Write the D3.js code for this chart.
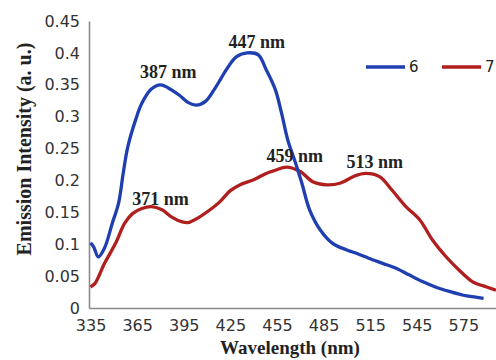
<!DOCTYPE html>
<html>
<head>
<meta charset="utf-8">
<script src="https://cdn.jsdelivr.net/npm/d3@7"></script>
<style>
  body { margin: 0; background: #fff; }
  svg { display: block; }
</style>
</head>
<body>
<div id="chart"></div>
<script>
// emission spectra, values
const blueWl = [335, 337, 340, 344, 349, 353, 356, 359, 364, 368, 374, 380, 385, 392, 398, 403, 409, 415, 419, 423, 429, 436, 443, 448, 454, 458, 462, 467, 471, 476, 483, 491, 500, 508, 514, 523, 532, 540, 549, 557, 566, 575, 583, 588];
const blueVal = [0.102, 0.096, 0.080, 0.094, 0.133, 0.164, 0.211, 0.253, 0.295, 0.321, 0.343, 0.350, 0.345, 0.334, 0.322, 0.318, 0.324, 0.344, 0.360, 0.376, 0.394, 0.400, 0.397, 0.374, 0.342, 0.305, 0.263, 0.227, 0.196, 0.154, 0.122, 0.101, 0.091, 0.084, 0.078, 0.070, 0.062, 0.052, 0.041, 0.033, 0.026, 0.020, 0.017, 0.015];

const redWl = [335, 338, 344, 351, 357, 362, 368, 374, 381, 387, 394, 398, 404, 413, 418, 425, 431, 440, 448, 454, 461, 470, 478, 487, 496, 505, 512, 521, 529, 538, 547, 555, 564, 572, 581, 590, 596];
const redVal = [0.033, 0.039, 0.070, 0.101, 0.133, 0.148, 0.156, 0.159, 0.154, 0.143, 0.135, 0.134, 0.141, 0.156, 0.166, 0.184, 0.193, 0.201, 0.211, 0.216, 0.221, 0.214, 0.198, 0.193, 0.196, 0.207, 0.211, 0.206, 0.185, 0.159, 0.138, 0.107, 0.080, 0.060, 0.041, 0.033, 0.028];

const seriesNames = ["6", "7"];
const seriesColors = ["#1f3fb0", "#b01e1e"];

const xTicks = [335, 365, 395, 425, 455, 485, 515, 545, 575];
const yTicks = [0, 0.05, 0.1, 0.15, 0.2, 0.25, 0.3, 0.35, 0.4, 0.45];

// peak labels (anchored at label centre)
const peakLabels = ["387 nm", "447 nm", "459 nm", "513 nm", "371 nm"];
const peakWl = [385, 442, 466.5, 518, 380];
const peakVal = [0.361, 0.408, 0.229, 0.219, 0.161];

const WIDTH = 496;
const HEIGHT = 360;
const margin = { top: 21, right: 0, bottom: 52, left: 89 };

const svg = d3.select("#chart")
  .append("svg")
  .attr("width", WIDTH)
  .attr("height", HEIGHT);

const xScale = d3.scaleLinear()
  .domain([334, 596])
  .range([margin.left, WIDTH - margin.right]);
const yScale = d3.scaleLinear()
  .domain([0, 0.45])
  .range([HEIGHT - margin.bottom, margin.top]);

// axes
const yAxis = d3.axisLeft(yScale)
  .tickValues(yTicks)
  .tickFormat(d => String(d))
  .tickSize(0)
  .tickPadding(9);
const xAxis = d3.axisBottom(xScale)
  .tickValues(xTicks)
  .tickFormat(d => String(d))
  .tickSize(0)
  .tickPadding(12);

const gy = svg.append("g")
  .attr("transform", `translate(${margin.left},0)`)
  .call(yAxis);
const gx = svg.append("g")
  .attr("transform", `translate(0,${HEIGHT - margin.bottom})`)
  .call(xAxis);

[gx, gy].forEach(g => {
  g.select(".domain").attr("stroke", "#8a8a8a").attr("stroke-width", 1.6);
  g.selectAll("text")
    .attr("fill", "#333")
    .style("font-family", "'DejaVu Sans', Verdana, sans-serif")
    .style("font-size", "16px");
});

// lines
const line = d3.line()
  .x(d => xScale(d[0]))
  .y(d => yScale(d[1]))
  .curve(d3.curveCatmullRom.alpha(0.5));

const blueData = blueWl.map((w, i) => [w, blueVal[i]]);
const redData = redWl.map((w, i) => [w, redVal[i]]);

svg.append("path")
  .datum(redData)
  .attr("d", line)
  .attr("fill", "none")
  .attr("stroke", seriesColors[1])
  .attr("stroke-width", 3.3)
  .attr("stroke-linejoin", "round");

svg.append("path")
  .datum(blueData)
  .attr("d", line)
  .attr("fill", "none")
  .attr("stroke", seriesColors[0])
  .attr("stroke-width", 3.3)
  .attr("stroke-linejoin", "round");

// peak annotations
svg.append("g")
  .selectAll("text")
  .data(peakLabels)
  .join("text")
  .attr("x", (d, i) => xScale(peakWl[i]))
  .attr("y", (d, i) => yScale(peakVal[i]))
  .attr("text-anchor", "middle")
  .attr("fill", "#222")
  .style("font-family", "'Liberation Serif', 'Times New Roman', serif")
  .style("font-weight", "bold")
  .style("font-size", "18px")
  .text(d => d);

// legend
const legend = svg.append("g");
const legendX = [366, 442];
seriesNames.forEach((name, i) => {
  legend.append("line")
    .attr("x1", legendX[i]).attr("x2", legendX[i] + 39)
    .attr("y1", 67).attr("y2", 67)
    .attr("stroke", seriesColors[i])
    .attr("stroke-width", 3.3);
  legend.append("text")
    .attr("x", legendX[i] + 43)
    .attr("y", 72)
    .attr("fill", "#222")
    .style("font-family", "'DejaVu Sans', Verdana, sans-serif")
    .style("font-size", "15px")
    .text(name);
});

// axis titles
svg.append("text")
  .attr("transform", "translate(31,149) rotate(-90)")
  .attr("text-anchor", "middle")
  .attr("fill", "#222")
  .style("font-family", "'Liberation Serif', 'Times New Roman', serif")
  .style("font-weight", "bold")
  .style("font-size", "20px")
  .text("Emission Intensity (a. u.)");

svg.append("text")
  .attr("x", 290)
  .attr("y", 354)
  .attr("text-anchor", "middle")
  .attr("fill", "#222")
  .style("font-family", "'Liberation Serif', 'Times New Roman', serif")
  .style("font-weight", "bold")
  .style("font-size", "19px")
  .text("Wavelength (nm)");
</script>
</body>
</html>
